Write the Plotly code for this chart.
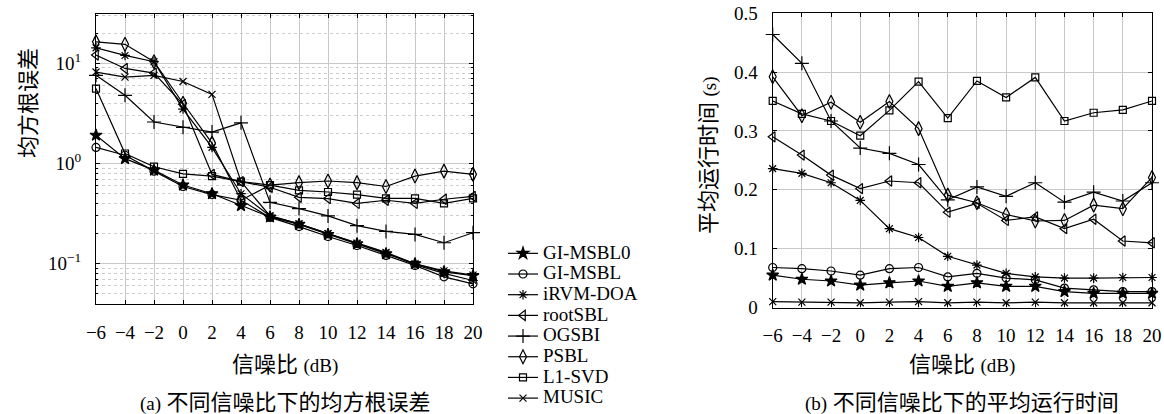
import plotly.graph_objects as go

W, H = 1164, 414

snr = [-6, -4, -2, 0, 2, 4, 6, 8, 10, 12, 14, 16, 18, 20]
names = ["GI-MSBL0", "GI-MSBL", "iRVM-DOA", "rootSBL", "OGSBI", "PSBL", "L1-SVD", "MUSIC"]

# (a) RMSE vs SNR
rmse_gi_msbl0 = [1.92, 1.12, 0.86, 0.61, 0.50, 0.38, 0.293, 0.247, 0.196, 0.158, 0.126, 0.100, 0.083, 0.076]
rmse_gi_msbl = [1.45, 1.21, 0.84, 0.59, 0.49, 0.43, 0.290, 0.235, 0.187, 0.152, 0.121, 0.096, 0.074, 0.063]
rmse_irvm = [14.3, 12.0, 10.4, 3.5, 1.45, 0.50, 0.30, 0.25, 0.20, 0.16, 0.128, 0.098, 0.080, 0.068]
rmse_rootsbl = [12.1, 8.9, 8.0, 3.9, 0.78, 0.66, 0.58, 0.46, 0.447, 0.40, 0.43, 0.40, 0.44, 0.47]
rmse_ogsbi = [7.6, 4.8, 2.6, 2.3, 2.06, 2.55, 0.41, 0.355, 0.30, 0.24, 0.21, 0.196, 0.162, 0.204]
rmse_psbl = [16.4, 15.5, 10.4, 4.0, 1.6, 0.43, 0.61, 0.645, 0.67, 0.645, 0.59, 0.75, 0.84, 0.78]
rmse_l1svd = [5.6, 1.26, 0.93, 0.79, 0.75, 0.66, 0.61, 0.54, 0.52, 0.49, 0.45, 0.45, 0.40, 0.45]
rmse_music = [8.2, 7.3, 7.6, 6.6, 4.9, 0.66, 0.30, 0.25, 0.20, 0.16, 0.13, 0.10, 0.085, 0.077]

# (b) average running time vs SNR
time_gi_msbl0 = [0.055, 0.048, 0.045, 0.038, 0.042, 0.045, 0.036, 0.042, 0.036, 0.036, 0.027, 0.024, 0.024, 0.024]
time_gi_msbl = [0.068, 0.066, 0.062, 0.055, 0.066, 0.068, 0.052, 0.058, 0.050, 0.047, 0.033, 0.030, 0.027, 0.027]
time_irvm = [0.236, 0.228, 0.212, 0.182, 0.134, 0.119, 0.087, 0.072, 0.058, 0.052, 0.050, 0.050, 0.051, 0.051]
time_rootsbl = [0.290, 0.259, 0.225, 0.202, 0.215, 0.212, 0.162, 0.177, 0.148, 0.154, 0.134, 0.150, 0.113, 0.110]
time_ogsbi = [0.464, 0.415, 0.317, 0.271, 0.262, 0.243, 0.183, 0.205, 0.189, 0.212, 0.179, 0.196, 0.181, 0.212]
time_psbl = [0.392, 0.326, 0.349, 0.315, 0.350, 0.304, 0.191, 0.178, 0.158, 0.147, 0.148, 0.174, 0.168, 0.221]
time_l1svd = [0.351, 0.329, 0.317, 0.292, 0.335, 0.384, 0.322, 0.385, 0.357, 0.391, 0.317, 0.331, 0.336, 0.351]
time_music = [0.010, 0.009, 0.009, 0.008, 0.009, 0.010, 0.008, 0.009, 0.008, 0.009, 0.008, 0.008, 0.008, 0.008]

x_ticks = [-6, -4, -2, 0, 2, 4, 6, 8, 10, 12, 14, 16, 18, 20]
y_ticks_a = [0.1, 1, 10]
y_ticktext_a = ["10<sup>\u22121</sup>", "10<sup>0</sup>", "10<sup>1</sup>"]
y_ticks_b = [0, 0.1, 0.2, 0.3, 0.4, 0.5]
y_ticktext_b = ["0", "0.1", "0.2", "0.3", "0.4", "0.5"]

rmse = [rmse_gi_msbl0, rmse_gi_msbl, rmse_irvm, rmse_rootsbl, rmse_ogsbi, rmse_psbl, rmse_l1svd, rmse_music]
times = [time_gi_msbl0, time_gi_msbl, time_irvm, time_rootsbl, time_ogsbi, time_psbl, time_l1svd, time_music]

symbols = ["star", "circle-open", "asterisk-open", "triangle-left-open", "cross-thin-open",
           "diamond-tall-open", "square-open", "x-thin-open"]
sizes = [9, 8, 8, 9, 10, 10, 7, 7]

SERIF = "Liberation Serif, Noto Sans CJK SC, serif"
MIX = "Liberation Serif, Noto Sans CJK SC"
LAT = 19   # latin text size
CJK = 22   # CJK text size


def px_x(p):
    return p / W


def px_y(p):
    return 1 - p / H


def mixed(cjk, latin_pre="", latin_post=""):
    s = ""
    if latin_pre:
        s += '<span style="font-size:%dpx">%s</span> ' % (LAT, latin_pre)
    s += cjk
    if latin_post:
        s += ' <span style="font-size:%dpx">%s</span>' % (LAT, latin_post)
    return s


fig = go.Figure()
for i, n in enumerate(names):
    mk = dict(symbol=symbols[i], size=sizes[i], color="black",
              line=dict(color="black", width=1.2))
    fig.add_trace(go.Scatter(x=snr, y=rmse[i],
                             name='<span style="font-size:19px">' + n + '</span>',
                             mode="lines+markers",
                             line=dict(color="black", width=1.2), marker=mk,
                             xaxis="x", yaxis="y", cliponaxis=False, showlegend=True))
    fig.add_trace(go.Scatter(x=snr, y=times[i], name=n, mode="lines+markers",
                             line=dict(color="black", width=1.2), marker=mk,
                             xaxis="x2", yaxis="y2", cliponaxis=False, showlegend=False))

# minor grid values for log axis
minor_a = []
for dec in [0.01, 0.1, 1, 10]:
    for k in range(2, 10):
        v = k * dec
        if 0.04 <= v <= 31:
            minor_a.append(v)

axis_common = dict(showline=True, linecolor="black", linewidth=1.2, mirror="ticks",
                   ticks="inside", ticklen=4, tickcolor="black", tickwidth=1,
                   gridcolor="#c8c8c8", gridwidth=1, zeroline=False, automargin=False,
                   tickfont=dict(family=SERIF, size=LAT, color="black"))

fig.update_layout(
    width=W, height=H, autosize=False,
    margin=dict(l=0, r=0, t=0, b=0, pad=0),
    paper_bgcolor="white", plot_bgcolor="white",
    xaxis=dict(domain=[px_x(96), px_x(473)], range=[-6, 20], tickvals=x_ticks,
               showgrid=True, ticklabelstandoff=11, anchor="y", **axis_common),
    yaxis=dict(domain=[px_y(304.3), px_y(14)], type="log", range=[-1.405, 1.493],
               tickvals=y_ticks_a, ticktext=y_ticktext_a, showgrid=True,
               ticklabelstandoff=10, anchor="x",
               minor=dict(tickvals=minor_a, ticks="inside", ticklen=2, tickcolor="black",
                          showgrid=True, gridcolor="#cdcdcd", griddash="dot", gridwidth=1),
               **axis_common),
    xaxis2=dict(domain=[px_x(772.7), px_x(1152)], range=[-6, 20], tickvals=x_ticks,
                showgrid=True, ticklabelstandoff=11, anchor="y2", **axis_common),
    yaxis2=dict(domain=[px_y(307.5), px_y(13.3)], range=[0, 0.5], tickvals=y_ticks_b,
                ticktext=y_ticktext_b,
                showgrid=True, ticklabelstandoff=10, anchor="x2", **axis_common),
    legend=dict(x=px_x(503), y=0, xanchor="left", yanchor="bottom",
                font=dict(family=SERIF, size=13.6, color="black"),
                bgcolor="rgba(0,0,0,0)", borderwidth=0, tracegroupgap=0,
                itemwidth=30),
    showlegend=True,
)

ann = [
    dict(text=mixed("信噪比", latin_post="(dB)"), x=px_x(284.5), y=px_y(364)),
    dict(text=mixed("信噪比", latin_post="(dB)"), x=px_x(962.5), y=px_y(364)),
    dict(text=mixed("不同信噪比下的均方根误差", latin_pre="(a)"), x=px_x(285), y=px_y(402)),
    dict(text=mixed("不同信噪比下的平均运行时间", latin_pre="(b)"), x=px_x(962), y=px_y(402)),
    dict(text=mixed("均方根误差"), x=px_x(28), y=px_y(103), textangle=-90),
    dict(text=mixed("平均运行时间", latin_post="(s)"), x=px_x(708), y=px_y(155), textangle=-90),
]
for a in ann:
    fig.add_annotation(xref="paper", yref="paper", showarrow=False,
                       xanchor="center", yanchor="middle",
                       font=dict(family=MIX, size=CJK, color="black"), **a)

fig.write_html("out.html", config={"displayModeBar": False},
               post_script="document.body.style.margin='0';document.body.style.overflow='hidden';")
